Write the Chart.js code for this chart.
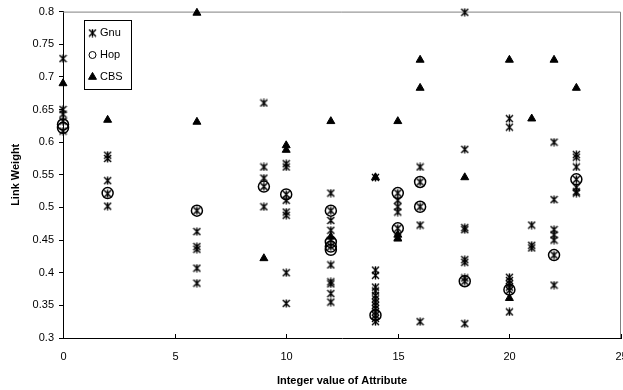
<!DOCTYPE html>
<html>
<head>
<meta charset="utf-8">
<script src="https://cdn.jsdelivr.net/npm/chart.js@4/dist/chart.umd.min.js"></script>
<style>
body { margin: 0; background: #fff; overflow: hidden; }
</style>
</head>
<body>
<canvas id="chart" width="623" height="390"></canvas>
<script>
// data
var seriesNames = ['Gnu', 'Hop', 'CBS'];
var xTicks = [0, 5, 10, 15, 20, 25];
var yTicks = [0.3, 0.35, 0.4, 0.45, 0.5, 0.55, 0.6, 0.65, 0.7, 0.75, 0.8];

var gnuX = [0, 0, 0, 0, 0,
  2, 2, 2, 2, 2,
  6, 6, 6, 6, 6, 6,
  9, 9, 9, 9, 9,
  10, 10, 10, 10, 10, 10, 10, 10,
  12, 12, 12, 12, 12, 12, 12, 12, 12, 12, 12,
  14, 14, 14, 14, 14, 14, 14, 14, 14, 14, 14, 14, 14, 14,
  15, 15, 15, 15, 15, 15,
  16, 16, 16, 16, 16,
  18, 18, 18, 18, 18, 18, 18, 18, 18,
  20, 20, 20, 20, 20, 20, 20, 20,
  21, 21, 21,
  22, 22, 22, 22, 22, 22, 22,
  23, 23, 23, 23, 23, 23, 23];
var gnuY = [0.728, 0.650, 0.643, 0.632, 0.617,
  0.580, 0.575, 0.541, 0.521, 0.502,
  0.495, 0.463, 0.440, 0.436, 0.407, 0.384,
  0.660, 0.562, 0.545, 0.532, 0.501,
  0.567, 0.562, 0.520, 0.511, 0.493, 0.488, 0.400, 0.353,
  0.522, 0.495, 0.480, 0.465, 0.450, 0.440, 0.412, 0.386, 0.383, 0.368, 0.355,
  0.546, 0.404, 0.396, 0.378, 0.372, 0.365, 0.360, 0.355, 0.350, 0.345, 0.340, 0.335, 0.330, 0.325,
  0.522, 0.511, 0.501, 0.493, 0.468, 0.455,
  0.562, 0.539, 0.501, 0.473, 0.325,
  0.799, 0.589, 0.469, 0.466, 0.420, 0.416, 0.392, 0.387, 0.322,
  0.636, 0.623, 0.393, 0.388, 0.383, 0.378, 0.373, 0.340,
  0.473, 0.442, 0.438,
  0.600, 0.512, 0.466, 0.458, 0.450, 0.427, 0.381,
  0.581, 0.577, 0.562, 0.543, 0.531, 0.524, 0.522];

var hopX = [0, 0, 2, 6, 9, 10, 12, 12, 12, 12, 14, 15, 15, 16, 16, 18, 20, 22, 23];
var hopY = [0.627, 0.622, 0.522, 0.495, 0.532, 0.520, 0.495, 0.447, 0.440, 0.435,
  0.335, 0.522, 0.468, 0.539, 0.501, 0.387, 0.374, 0.427, 0.543];

var cbsX = [0, 2, 6, 6, 9, 10, 10, 12, 12, 14, 15, 15, 15, 16, 16, 18, 20, 20, 21, 22, 23];
var cbsY = [0.690, 0.634, 0.798, 0.631, 0.422, 0.595, 0.588, 0.632, 0.455, 0.546,
  0.632, 0.458, 0.452, 0.726, 0.683, 0.546, 0.726, 0.361, 0.636, 0.726, 0.683];

function pts(xs, ys) {
  return xs.map(function(x, i) { return {x: x, y: ys[i]}; });
}

// Excel-like asterisk marker: X with a vertical bar
function makeStar(size) {
  var c = document.createElement('canvas');
  c.width = size; c.height = size;
  var g = c.getContext('2d');
  var m = size / 2, a = size / 2 - 1;
  g.strokeStyle = '#000';
  g.lineWidth = 1.4;
  g.beginPath();
  g.moveTo(m - a, m - a); g.lineTo(m + a, m + a);
  g.moveTo(m + a, m - a); g.lineTo(m - a, m + a);
  g.moveTo(m, m - a - 0.5); g.lineTo(m, m + a + 0.5);
  g.stroke();
  return c;
}
var star = makeStar(9);

var font = '"Liberation Sans", Arial, sans-serif';

// grey frame on top/right, inward ticks and labels on x axis
// (labels drawn here so the last one can run off the edge like the original)
var frame = {
  id: 'frame',
  beforeDatasetsDraw: function(chart) {
    var a = chart.chartArea, ctx = chart.ctx;
    ctx.save();
    ctx.strokeStyle = '#808080';
    ctx.lineWidth = 1;
    ctx.beginPath();
    ctx.moveTo(a.left, a.top + 0.5);
    ctx.lineTo(a.right - 0.5, a.top + 0.5);
    ctx.lineTo(a.right - 0.5, a.bottom);
    ctx.stroke();
    var xs = chart.scales.x;
    ctx.strokeStyle = '#000';
    ctx.fillStyle = '#000';
    ctx.font = '11px ' + font;
    ctx.textAlign = 'center';
    ctx.textBaseline = 'middle';
    ctx.beginPath();
    xs.ticks.forEach(function(t) {
      var px = Math.round(xs.getPixelForValue(t.value)) + 0.5;
      ctx.moveTo(px, a.bottom);
      ctx.lineTo(px, a.bottom - 4);
      ctx.fillText(String(t.value), px, a.bottom + 19);
    });
    ctx.stroke();
    ctx.restore();
  }
};

// legend box inside the plot
var legendBox = {
  id: 'legendBox',
  afterDraw: function(chart) {
    var ctx = chart.ctx;
    ctx.save();
    ctx.fillStyle = '#fff';
    ctx.fillRect(84, 20, 47, 69);
    ctx.strokeStyle = '#000';
    ctx.lineWidth = 1;
    ctx.strokeRect(84.5, 20.5, 47, 69);
    ctx.font = '11px ' + font;
    ctx.textBaseline = 'middle';
    chart.data.datasets.forEach(function(ds, i) {
      var y = 33 + i * 22;
      var hollow = ds.pointStyle === 'circle';
      ctx.fillStyle = hollow ? 'rgba(0,0,0,0)' : '#000';
      ctx.strokeStyle = '#000';
      ctx.lineWidth = 1;
      Chart.helpers.drawPoint(ctx, {
        pointStyle: ds.pointStyle,
        radius: hollow ? 3.5 : ds.pointRadius,
        borderWidth: 1,
        rotation: 0
      }, 92.5, y);
      ctx.fillStyle = '#000';
      ctx.fillText(ds.label, 100, y);
    });
    ctx.restore();
  }
};

new Chart(document.getElementById('chart'), {
  type: 'scatter',
  data: {
    datasets: [{
      label: seriesNames[0],
      data: pts(gnuX, gnuY),
      pointStyle: star,
      pointRadius: 4.5,
      clip: false
    }, {
      label: seriesNames[1],
      data: pts(hopX, hopY),
      pointStyle: 'circle',
      pointRadius: 5.5,
      pointBorderWidth: 1.5,
      pointBorderColor: '#000',
      pointBackgroundColor: 'rgba(0,0,0,0)',
      clip: false
    }, {
      label: seriesNames[2],
      data: pts(cbsX, cbsY),
      pointStyle: 'triangle',
      pointRadius: 4.6,
      pointBorderWidth: 1,
      pointBorderColor: '#000',
      pointBackgroundColor: '#000',
      clip: false
    }]
  },
  options: {
    responsive: false,
    animation: false,
    events: [],
    // no auto padding: the point overflow would otherwise pull the right edge in
    layout: { autoPadding: false, padding: { top: 11, right: 2, bottom: 0, left: 0 } },
    plugins: { legend: { display: false }, tooltip: { enabled: false } },
    scales: {
      x: {
        type: 'linear',
        min: xTicks[0],
        max: xTicks[xTicks.length - 1],
        afterBuildTicks: function(s) { s.ticks = xTicks.map(function(v) { return {value: v}; }); },
        ticks: { display: false },
        grid: { drawOnChartArea: false, drawTicks: false },
        border: { color: '#000', width: 1 },
        title: {
          display: true, text: 'Integer value of Attribute', color: '#000',
          font: { family: font, size: 11, weight: 'bold' }, padding: { top: 0, bottom: 2 }
        },
        afterFit: function(s) { s.height = 52; }
      },
      y: {
        min: yTicks[0],
        max: yTicks[yTicks.length - 1],
        afterBuildTicks: function(s) { s.ticks = yTicks.map(function(v) { return {value: v}; }); },
        ticks: {
          color: '#000', font: { family: font, size: 11 }, padding: 5,
          callback: function(v) { return String(parseFloat(Number(v).toFixed(2))); }
        },
        grid: { drawOnChartArea: false, drawTicks: true, tickLength: 4, color: '#000' },
        border: { color: '#000', width: 1 },
        title: {
          display: true, text: 'Link Weight', color: '#000',
          font: { family: font, size: 11, weight: 'bold' }, padding: { top: 9, bottom: 0 }
        },
        afterFit: function(s) { s.width = 63; }
      }
    }
  },
  plugins: [frame, legendBox]
});
</script>
</body>
</html>
